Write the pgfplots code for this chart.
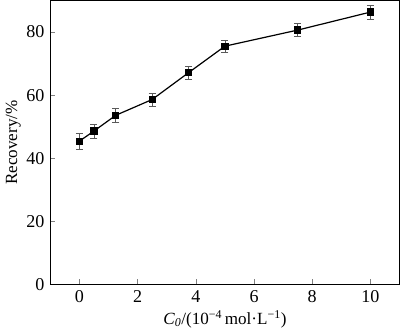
\documentclass[border=0pt]{standalone}
\usepackage{fontspec}
\setmainfont{Liberation Serif}
\usepackage{pgfplots}
\pgfplotsset{compat=1.18}
\begin{document}
\fontsize{17}{20}\selectfont
\begin{tikzpicture}
\begin{axis}[
  scale only axis,
  width=348pt, height=283pt,
  xmin=-1, xmax=11, ymin=0, ymax=90,
  xtick={0,2,4,6,8,10}, ytick={0,20,40,60,80},
  xticklabels={0,2,4,6,8,10}, yticklabels={0,20,40,60,80},
  tick align=inside,
  xtick pos=bottom, ytick pos=left,
  major tick length=5pt,
  tick label style={font=\fontsize{18}{20}\selectfont},
  label style={font=\fontsize{17}{20}\selectfont},
  xlabel={\textit{C}\textsubscript{\textit{0}}/(10\textsuperscript{−4}\,mol·L\textsuperscript{−1})},
  ylabel={Recovery/\%},
  xlabel style={yshift=4pt},
  ylabel style={yshift=-6pt},
  axis line style={line width=0.8pt},
]
\addplot[black, line width=1.2pt, mark=square*, mark size=3pt,
  error bars/.cd, y dir=both, y explicit,
  error bar style={gray!70!black, line width=0.6pt},
  error mark options={rotate=90, mark size=3.5pt, gray!70!black, line width=0.6pt}]
coordinates {
  (0,45.4) +- (0,2.5)
  (0.5,48.6) +- (0,2.2)
  (1.25,53.6) +- (0,2.2)
  (2.5,58.6) +- (0,2.0)
  (3.75,67.1) +- (0,2.0)
  (5,75.5) +- (0,2.0)
  (7.5,80.6) +- (0,2.0)
  (10,86.3) +- (0,2.2)
};
\end{axis}
\end{tikzpicture}
\end{document}
